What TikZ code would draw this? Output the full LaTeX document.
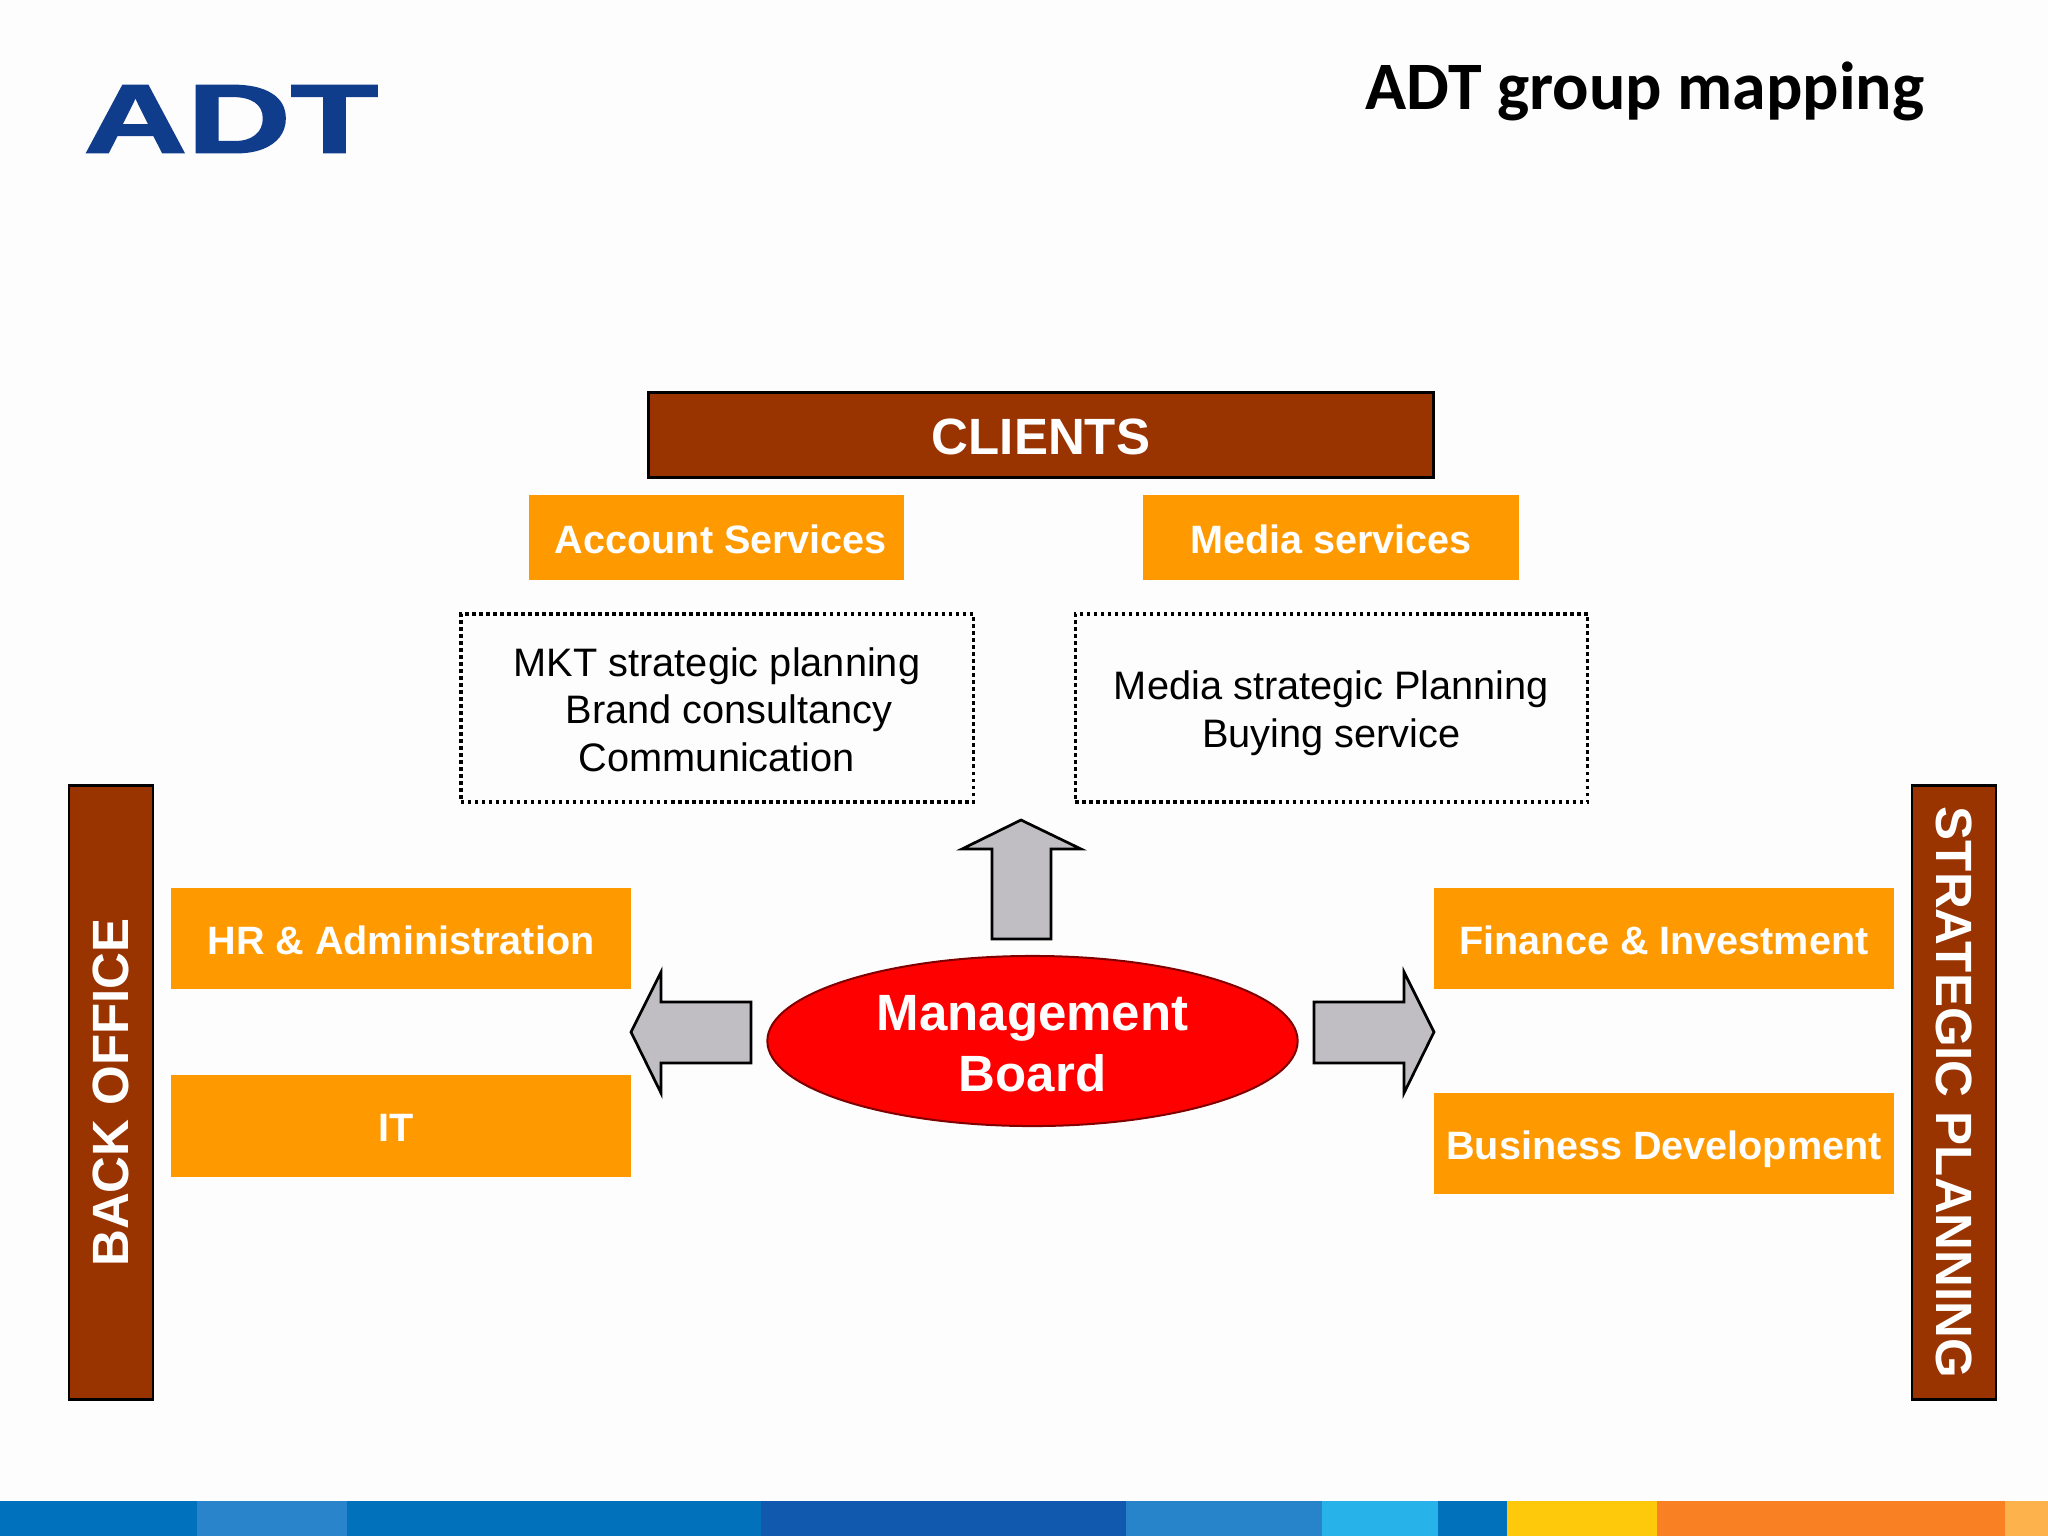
\documentclass[tikz,border=0pt]{standalone}
\usepackage{fontspec}
\setmainfont{Liberation Sans}
\newfontfamily\titlefont{Carlito}
\newfontfamily\logofont[BoldFeatures={FakeBold=1.6}]{Liberation Sans}
\usetikzlibrary{shapes.geometric}

\definecolor{pagebg}{HTML}{FDFDFD}
\definecolor{brownbar}{HTML}{993300}
\definecolor{orangebox}{HTML}{FF9900}
\definecolor{arrowgrey}{HTML}{C0BEC3}
\definecolor{logoblue}{HTML}{103C8C}
\definecolor{boardred}{HTML}{FF0000}

\tikzset{
  barbox/.style={draw=black, line width=0.027cm, fill=brownbar, text=white, inner sep=0pt,
    font=\bfseries\fontsize{14.5}{17}\selectfont},
  unitbox/.style={fill=orangebox, text=white, inner sep=0pt, align=center,
    text height=0.356cm, text depth=0.046cm,
    font=\bfseries\fontsize{11.25}{13.6}\selectfont},
  taskbox/.style={draw=black, line width=0.033cm, dash pattern=on 0.035cm off 0.035cm, inner sep=0pt,
    align=center, minimum width=5.12cm, minimum height=1.88cm,
    font=\fontsize{11.3}{13.6}\selectfont},
  blockarrow/.style={draw=black, line width=0.027cm, fill=arrowgrey, miter limit=10}
}

\begin{document}
\begin{tikzpicture}[x=0.01cm, y=-0.01cm] % 1 unit is 1 pixel, y goes down
  \useasboundingbox (0,0) rectangle (2048,1536);
  \fill[pagebg] (0,0) rectangle (2048,1536);

  % Colour strip at the bottom
  \foreach \A/\B/\C in {0/197/0071BC, 197/347/2A84CC, 347/761/0071BA, 761/1126/1059AE,
      1126/1322/2784CA, 1322/1438/27B3EA, 1438/1507/0071BA, 1507/1657/FFC90B,
      1657/2005/F98023, 2005/2048/FDB24B} {
    \definecolor{stripcol}{HTML}{\C}
    \fill[stripcol] (\A,1501) rectangle (\B,1536);
  }

  % Logo and title
  \node[text=logoblue, xscale=1.51, yscale=1.03, inner sep=0pt, font=\logofont\bfseries\fontsize{27}{27}\selectfont] (logo) at (231,119) {ADT};
  \node[inner sep=0pt, font=\titlefont\bfseries\fontsize{19.3}{22}\selectfont] (title) at (1645,91) {ADT group mapping};

  % Top of the chart
  \node[barbox, minimum width=7.84cm, minimum height=0.85cm, text height=0.452cm, text depth=0.062cm] (clients) at (1041,435) {CLIENTS};
  \node[unitbox, minimum width=3.75cm, minimum height=0.85cm] (account) at (716.5,537.5) {\hspace*{0.09cm}Account Services};
  \node[unitbox, minimum width=3.76cm, minimum height=0.85cm] (media) at (1331,537.5) {Media services};
  \node[taskbox] (accounttasks) at (717,708) {\rule{0pt}{0.32cm}MKT strategic planning\\ \hspace*{0.24cm}Brand consultancy\\ Communication};
  \node[taskbox] (mediatasks) at (1331.5,708) {\rule{0pt}{0.39cm}Media strategic Planning\\ Buying service};

  % Side bars
  \node[barbox, rotate=90, minimum width=6.13cm, minimum height=0.84cm] (backoffice) at (111,1092.5) {BACK OFFICE};
  \node[barbox, rotate=-90, minimum width=6.13cm, minimum height=0.84cm] (strategic) at (1954,1092.5) {STRATEGIC PLANNING};

  % Left and right units
  \node[unitbox, minimum width=4.6cm, minimum height=1.01cm] (hr) at (401,938.5) {HR \& Administration};
  \node[unitbox, minimum width=4.6cm, minimum height=1.02cm] (it) at (401,1126) {IT\hspace*{0.1cm}};
  \node[unitbox, minimum width=4.6cm, minimum height=1.01cm] (finance) at (1664,938.5) {Finance \& Investment};
  \node[unitbox, minimum width=4.6cm, minimum height=1.01cm] (business) at (1664,1143.5) {Business Development};

  % Board in the middle
  \node[ellipse, draw=boardred!50!black, line width=0.02cm, fill=boardred, text=white, inner sep=0pt,
    minimum width=5.3cm, minimum height=1.7cm, align=center,
    font=\bfseries\fontsize{14.5}{17.3}\selectfont] (board) at (1032.5,1041) {\rule{0pt}{0.41cm}Management\\ Board};

  % Block arrows
  \draw[blockarrow] (992,939) -- (992,849) -- (962,849) -- (1021,820) -- (1081,849) -- (1051,849) -- (1051,939) -- cycle;
  \draw[blockarrow] (751,1002) -- (661,1002) -- (661,972) -- (631,1032) -- (661,1093) -- (661,1063) -- (751,1063) -- cycle;
  \draw[blockarrow] (1314,1002) -- (1404,1002) -- (1404,972) -- (1434,1032) -- (1404,1093) -- (1404,1063) -- (1314,1063) -- cycle;
\end{tikzpicture}
\end{document}
